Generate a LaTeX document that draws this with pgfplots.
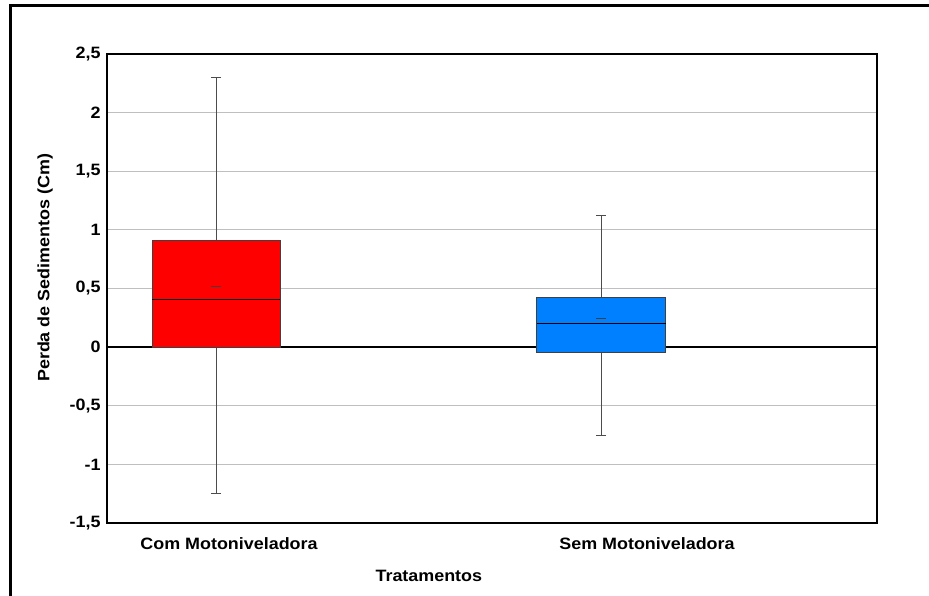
\documentclass[border=0pt]{standalone}
\usepackage{fontspec}
\setmainfont{Liberation Sans}[FakeStretch=1.09]
\usepackage{pgfplots}
\pgfplotsset{compat=1.18}
\usepgfplotslibrary{statistics}
\definecolor{boxred}{RGB}{255,0,0}
\definecolor{boxblue}{RGB}{0,128,255}
\begin{document}
\begin{tikzpicture}
\path[use as bounding box] (0bp,0bp) rectangle (929bp,596bp);
\draw[line width=3bp] (10bp,0bp) -- (10bp,590.5bp) -- (929bp,590.5bp);
\begin{axis}[
  at={(107bp,73bp)}, anchor=south west, scale only axis,
  width=770bp, height=469bp,
  xmin=0, xmax=7.70, ymin=-1.5, ymax=2.5,
  ytick={-1.5,-1,-0.5,0,0.5,1,1.5,2,2.5},
  xtick={1.22,5.40},
  xticklabels={Com Motoniveladora, Sem Motoniveladora},
  major tick length=0pt,
  ymajorgrids, grid style={draw=black!25, line width=1bp},
  extra y ticks={0}, extra y tick labels={},
  extra y tick style={grid style={draw=black, line width=1.5bp}},
  axis line style={line width=1.5bp},
  /pgf/number format/use comma,
  /pgf/number format/assume math mode=true,
  ticklabel style={font=\bfseries\fontsize{16.5}{19}\selectfont},
  yticklabel style={xshift=-3bp},
  xticklabel style={yshift=-11bp},
  label style={font=\bfseries\fontsize{16.5}{19}\selectfont},
  xlabel={Tratamentos},
  ylabel={Perda de Sedimentos (Cm)},
  xlabel style={at={(axis description cs:0.418,0)}, anchor=center, yshift=-53bp},
  ylabel style={at={(axis description cs:-0.0805,0.544)}, anchor=center},
  boxplot/draw direction=y,
  boxplot/every average/.style={/tikz/mark=-, /tikz/mark size=5bp},
  boxplot/every median/.style={/tikz/draw=black, /tikz/line width=1bp},
  boxplot/every whisker/.style={/tikz/draw=black!70, /tikz/line width=1bp},
]
\addplot[boxplot prepared={draw position=1.09, lower whisker=-1.245,
  lower quartile=0, median=0.41, upper quartile=0.91, upper whisker=2.30,
  average=0.52, box extend=1.28, whisker extend=0.1},
  draw=black!75, fill=boxred, line width=1bp,
  mark options={draw=red!50!black, line width=1.5bp}] coordinates {};
\addplot[boxplot prepared={draw position=4.94, lower whisker=-0.75,
  lower quartile=-0.05, median=0.205, upper quartile=0.426, upper whisker=1.125,
  average=0.24, box extend=1.29, whisker extend=0.1},
  draw=black!75, fill=boxblue, line width=1bp,
  mark options={draw=black!80, line width=1.2bp}] coordinates {};
\end{axis}
\end{tikzpicture}
\end{document}
